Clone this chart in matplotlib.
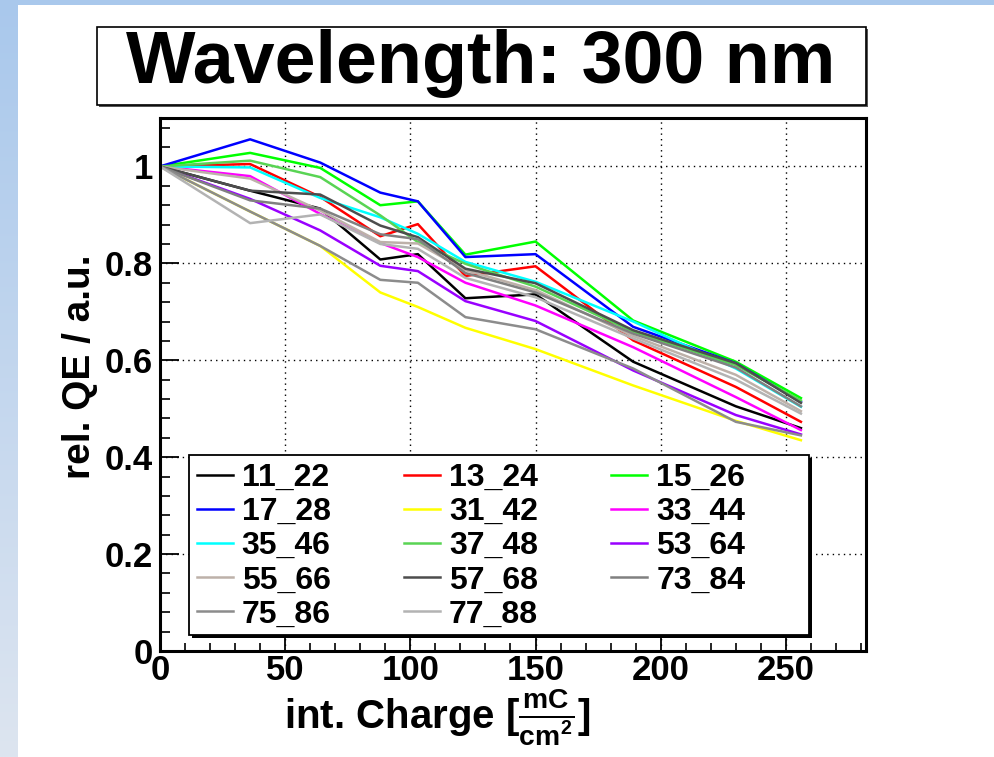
import matplotlib.pyplot as plt
import numpy as np
from matplotlib.colors import LinearSegmentedColormap
from matplotlib.patches import Rectangle
from matplotlib.ticker import MultipleLocator

plt.rcParams['font.family'] = ['Liberation Sans', 'DejaVu Sans']
plt.rcParams['font.weight'] = 'bold'
plt.rcParams['mathtext.fontset'] = 'custom'
plt.rcParams['mathtext.rm'] = 'Liberation Sans:bold'
plt.rcParams['mathtext.it'] = 'Liberation Sans:bold'
plt.rcParams['mathtext.bf'] = 'Liberation Sans:bold'

# %% data
charge = [0, 36, 64, 88, 103, 122, 150, 189, 230, 256]

channels = ["11_22", "13_24", "15_26", "17_28", "31_42", "33_44", "35_46",
            "37_48", "53_64", "55_66", "57_68", "73_84", "75_86", "77_88"]

qe_11_22 = [1, 0.950, 0.913, 0.808, 0.819, 0.728, 0.736, 0.597, 0.505, 0.460]
qe_13_24 = [1, 1.005, 0.937, 0.856, 0.881, 0.774, 0.794, 0.641, 0.545, 0.473]
qe_15_26 = [1, 1.028, 0.997, 0.920, 0.928, 0.818, 0.845, 0.682, 0.597, 0.522]
qe_17_28 = [1, 1.056, 1.008, 0.946, 0.928, 0.813, 0.819, 0.669, 0.594, 0.514]
qe_31_42 = [1, 0.907, 0.836, 0.740, 0.710, 0.667, 0.623, 0.548, 0.475, 0.435]
qe_33_44 = [1, 0.980, 0.902, 0.842, 0.813, 0.760, 0.713, 0.627, 0.524, 0.456]
qe_35_46 = [1, 0.998, 0.935, 0.895, 0.861, 0.803, 0.762, 0.680, 0.583, 0.504]
qe_37_48 = [1, 1.012, 0.978, 0.899, 0.844, 0.799, 0.752, 0.659, 0.590, 0.517]
qe_53_64 = [1, 0.933, 0.868, 0.795, 0.784, 0.722, 0.681, 0.579, 0.487, 0.447]
qe_55_66 = [1, 0.975, 0.909, 0.844, 0.841, 0.786, 0.745, 0.650, 0.570, 0.495]
qe_57_68 = [1, 0.950, 0.942, 0.878, 0.854, 0.789, 0.759, 0.662, 0.594, 0.512]
qe_73_84 = [1, 0.930, 0.913, 0.860, 0.850, 0.780, 0.740, 0.655, 0.585, 0.505]
qe_75_86 = [1, 0.907, 0.836, 0.766, 0.760, 0.689, 0.664, 0.583, 0.473, 0.445]
qe_77_88 = [1, 0.883, 0.901, 0.840, 0.830, 0.770, 0.730, 0.645, 0.560, 0.490]

series = [qe_11_22, qe_13_24, qe_15_26, qe_17_28, qe_31_42, qe_33_44, qe_35_46,
          qe_37_48, qe_53_64, qe_55_66, qe_57_68, qe_73_84, qe_75_86, qe_77_88]

colors = ["#000000", "#ff0000", "#00ff00", "#0000ff", "#ffff00", "#ff00ff", "#00ffff",
          "#59d454", "#9900ff", "#bdb1a9", "#4d4d4d", "#808080", "#8c8c8c", "#b3b3b3"]

x_ticks = [0, 50, 100, 150, 200, 250]
y_ticks = [0, 0.2, 0.4, 0.6, 0.8, 1.0]
y_tick_labels = ["0", "0.2", "0.4", "0.6", "0.8", "1"]

# %% figure
W, H = 995, 757
fig = plt.figure(figsize=(W / 100, H / 100), dpi=100)
fig.patch.set_facecolor("white")


def px(x0, y0, w, h):
    """pixel box (from top-left) -> figure fraction [l, b, w, h]"""
    return [x0 / W, 1 - (y0 + h) / H, w / W, h / H]


# slide background strips
bg = fig.add_axes(px(0, 0, 18, H))
bg.imshow(np.linspace(0, 1, 256)[:, None], aspect="auto",
          cmap=LinearSegmentedColormap.from_list("bg", ["#a9c8ec", "#dde5f0"]))
bg.axis("off")
fig.add_artist(Rectangle((0, 1 - 5 / H), 1, 5 / H, transform=fig.transFigure,
                         color="#a9c8ec", lw=0))

# title box with shadow
l, b, w, h = px(97, 27, 769, 78)
fig.add_artist(Rectangle((l + 2 / W, b - 2 / H), w, h, transform=fig.transFigure,
                         facecolor="#555555", edgecolor="none"))
fig.add_artist(Rectangle((l, b), w, h, transform=fig.transFigure,
                         facecolor="white", edgecolor="black", lw=1.2))
fig.text(481 / W, 1 - 83 / H, "Wavelength: 300 nm", ha="center", va="baseline",
         fontsize=53, fontweight="bold")

# %% plot
ax = fig.add_axes(px(160, 118, 706, 533))
lines = []
for name, vals, c in zip(channels, series, colors):
    (ln,) = ax.plot(charge, vals, color=c, lw=1.8, label=name)
    lines.append(ln)

ax.set_xlim(0, 282)
ax.set_ylim(0, 1.1)
ax.set_xticks(x_ticks)
ax.set_yticks(y_ticks)
ax.set_yticklabels(y_tick_labels)
ax.xaxis.set_minor_locator(MultipleLocator(10))
ax.yaxis.set_minor_locator(MultipleLocator(0.04))
ax.tick_params(axis="both", which="both", direction="in", labelsize=25)
ax.tick_params(axis="y", which="major", length=14, width=1.3, pad=5)
ax.tick_params(axis="y", which="minor", length=7, width=1.2)
ax.tick_params(axis="x", which="major", length=11, width=1.3, pad=2)
ax.tick_params(axis="x", which="minor", length=6, width=1.2)
for lab in ax.get_xticklabels() + ax.get_yticklabels():
    lab.set_fontweight("bold")
for s in ax.spines.values():
    s.set_linewidth(2.2)
ax.grid(True, which="major", color="black", linestyle=(0, (1, 3)), linewidth=1)

# legend box (ROOT style, with black drop shadow)
ll, lb, lw_, lh = px(189, 455, 620, 180)
ax.add_patch(Rectangle((ll + 3 / W, lb - 3 / H), lw_, lh, transform=fig.transFigure,
                       facecolor="black", edgecolor="none", zorder=4, clip_on=False))
ax.add_patch(Rectangle((ll, lb), lw_, lh, transform=fig.transFigure,
                       facecolor="white", edgecolor="black", lw=1.3, zorder=4.1,
                       clip_on=False))

# legend filled row by row like ROOT
order = sorted(range(len(lines)), key=lambda i: (i % 3, i // 3))
leg = ax.legend([lines[i] for i in order], [channels[i] for i in order], ncol=3,
                loc="upper left", bbox_to_anchor=(189 / W, 1 - 455 / H),
                bbox_transform=fig.transFigure, borderaxespad=0,
                prop={"weight": "bold", "size": 23},
                handlelength=1.12, handletextpad=0.28, columnspacing=2.3,
                labelspacing=0.13, borderpad=0.25, frameon=False)
leg.set_zorder(5)

# axis titles
fig.text(80 / W, 1 - 367 / H, "rel. QE / a.u.", rotation=90, ha="center", va="center",
         fontsize=28, fontweight="bold")
fig.text(437 / W, 1 - 729 / H, r"int. Charge [$\frac{mC}{cm^{2}}$]", ha="center",
         va="baseline", fontsize=29, fontweight="bold")

fig.savefig("out.png", dpi=100)
